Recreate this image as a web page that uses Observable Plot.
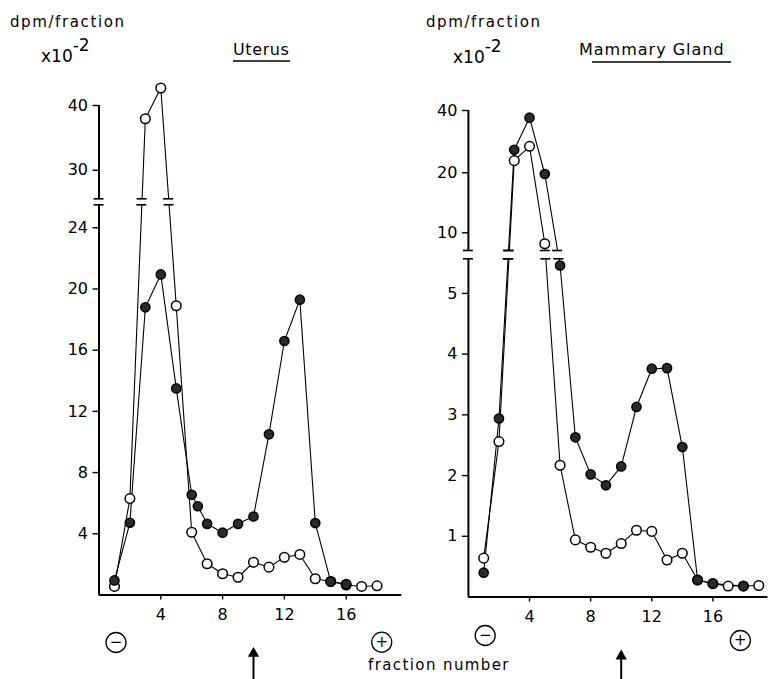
<!DOCTYPE html>
<html><head><meta charset="utf-8">
<script src="https://cdn.jsdelivr.net/npm/d3@7"></script>
<script src="https://cdn.jsdelivr.net/npm/@observablehq/plot@0.6"></script>
<style>
body{margin:0;background:#fff;}
#wrap{position:relative;width:768px;height:679px;overflow:hidden;font-family:"DejaVu Sans",sans-serif;background:#fff;}
#wrap > svg{position:absolute;top:0;}
</style></head><body><div id="wrap"></div>
<script>
// ---- data (dpm/fraction x10^-2 vs fraction number) ----
const uterusOpenX   = [1,2,3,4,5,6,7,8,9,10,11,12,13,14,15,16,17,18];
const uterusOpenY   = [0.56,6.3,37.95,42.7,18.9,4.1,2.04,1.39,1.16,2.14,1.82,2.47,2.65,1.06,0.88,0.65,0.56,0.6];
const uterusFilledX = [1,2,3,4,5,6,6.4,7,8,9,10,11,12,13,14,15,16];
const uterusFilledY = [0.95,4.72,18.8,20.95,13.5,6.55,5.8,4.65,4.07,4.65,5.13,10.5,16.6,19.3,4.7,0.88,0.72];

const mammaryOpenX   = [1,2,3,4,5,6,7,8,9,10,11,12,13,14,15,16,17,18,19];
const mammaryOpenY   = [0.64,2.56,23.9,28.5,8.76,2.17,0.94,0.82,0.72,0.88,1.1,1.08,0.61,0.72,0.28,0.22,0.18,0.18,0.19];
const mammaryFilledX = [1,2,3,4,5,6,7,8,9,10,11,12,13,14,15,16,18];
const mammaryFilledY = [0.40,2.94,27.4,37.7,19.8,5.46,2.63,2.02,1.84,2.15,3.13,3.76,3.77,2.47,0.28,0.22,0.18];

const xTicks = [4,8,12,16];
const uterusTicks  = [4,8,12,16,20,24,30,40];
const mammaryTicks = [1,2,3,4,5,10,20,40];
const arrowAt = 10;          // fraction marked by arrow
const minusAt = 1.1, plusAtU = 18.3, plusAtM = 17.8;

const toPts = (xs, ys) => xs.map((x,i)=>({x, y: ys[i]}));

function crossings(pts, xs, ys, lo, hi){
  const out = [];
  for (let i=0;i<pts.length-1;i++){
    const a=pts[i], b=pts[i+1];
    if (Math.min(a.y,b.y) < lo && Math.max(a.y,b.y) > hi){
      const ax=xs(a.x), ay=ys(a.y), bx=xs(b.x), by=ys(b.y);
      for (const v of [lo,hi]){
        const py=ys(v), t=(py-ay)/(by-ay);
        out.push({x: xs.invert(ax+t*(bx-ax)), y: v});
      }
    }
  }
  return out;
}

function panel(cfg){
  const xs = d3.scaleLinear().domain(cfg.xDomain).range(cfg.xRange);
  // broken (piecewise) value axis, used as the Plot y-scale transform
  const ys = d3.scaleLinear().domain(cfg.yDomain).range(cfg.yRange);
  const yEnds = [cfg.yRange[0], cfg.yRange[cfg.yRange.length-1]];
  const open = toPts(cfg.openX, cfg.openY), filled = toPts(cfg.filledX, cfg.filledY);
  const caps = [{x:0,y:cfg.lo},{x:0,y:cfg.hi},
    ...crossings(open, xs, ys, cfg.lo, cfg.hi), ...crossings(filled, xs, ys, cfg.lo, cfg.hi)];
  const hw = 5/ (xs(1)-xs(0));
  const y0 = cfg.yRange[0];
  return Plot.plot({
    width: cfg.width, height: 679,
    marginLeft: cfg.xRange[0], marginRight: Math.max(0, cfg.width - cfg.xRange[1]),
    marginTop: 0, marginBottom: 679 - y0,
    style: {background: "transparent", overflow: "visible", fontFamily: "DejaVu Sans, sans-serif", color: "black"},
    x: {domain: cfg.xDomain, range: cfg.xRange},
    y: {transform: ys, domain: yEnds, range: yEnds, axis: null},
    marks: [
      Plot.ruleY([0], {x1: 0, x2: cfg.xDomain[1], stroke: "black", strokeWidth: 1.8}),
      Plot.ruleX([0], {y1: 0, y2: 40, stroke: "black", strokeWidth: 2}),
      Plot.ruleY(cfg.ticks, {y: d=>d, x1: -6/(xs(1)-xs(0)), x2: 0, stroke: "black", strokeWidth: 1.4}),
      Plot.text(cfg.ticks, {y: d=>d, text: d=>String(d), frameAnchor: "left", dx: -11, textAnchor: "end", lineAnchor: "middle", fontSize: 16}),
      Plot.axisX(xTicks, {tickSize: 5, tickPadding: 9, fontSize: 16, label: null, strokeWidth: 1.4}),
      Plot.line(open, {x: "x", y: "y", stroke: "black", strokeWidth: 1.1}),
      Plot.line(filled, {x: "x", y: "y", stroke: "black", strokeWidth: 1.1}),
      Plot.rect([0], {x1: -0.6, x2: cfg.xDomain[1], y1: cfg.lo, y2: cfg.hi, fill: "white"}),
      Plot.ruleY(caps, {x1: d=>d.x-hw, x2: d=>d.x+hw, y: "y", stroke: "black", strokeWidth: 1.6}),
      Plot.dot(open, {x: "x", y: "y", r: 4.8, fill: "white", stroke: "black", strokeWidth: 1.5}),
      Plot.dot(filled, {x: "x", y: "y", r: 4.6, fill: "#2a2a2a", stroke: "black", strokeWidth: 1.5}),
      // electrode symbols
      Plot.dot([minusAt], {x: d=>d, frameAnchor: "bottom", dy: cfg.minusDy, r: 10, fill: "white", stroke: "black", strokeWidth: 1.3}),
      Plot.text([minusAt], {x: d=>d, frameAnchor: "bottom", dy: cfg.minusDy, lineAnchor: "middle", text: ()=>"−", fontSize: 15}),
      Plot.dot([cfg.plusAt], {x: d=>d, frameAnchor: "bottom", dy: cfg.plusDy, r: 10, fill: "white", stroke: "black", strokeWidth: 1.3}),
      Plot.text([cfg.plusAt], {x: d=>d, frameAnchor: "bottom", dy: cfg.plusDy, lineAnchor: "middle", text: ()=>"+", fontSize: 15}),
      // arrow
      Plot.ruleX([arrowAt], {x: d=>d, y1: cfg.arrowY[0], y2: cfg.arrowY[1], stroke: "black", strokeWidth: 2}),
      Plot.dot([arrowAt], {x: d=>d, y: cfg.arrowY[0], symbol: "triangle", r: 4.2, fill: "black"})
    ]
  });
}

const left = panel({
  width: 410,
  xDomain: [0, 19.6], xRange: [98.5, 401.3],
  yDomain: [0, 25.5, 25.6, 40, 45], yRange: [594.5, 204.3, 198.3, 105, 72.6],
  lo: 25.5, hi: 25.6,
  openX: uterusOpenX, openY: uterusOpenY, filledX: uterusFilledX, filledY: uterusFilledY,
  ticks: uterusTicks,
  minusDy: 47.5, plusDy: 47.2, plusAt: plusAtU,
  arrowY: [-3.82, -5.8]
});
left.style.left = "0px";

const right = panel({
  width: 384,
  xDomain: [0, 19.6], xRange: [83.9, 383.4],
  yDomain: [0, 5.57, 8, 10, 20, 40, 48], yRange: [596.5, 258.3, 250, 232.3, 172.3, 110, 85],
  lo: 5.57, hi: 8,
  openX: mammaryOpenX, openY: mammaryOpenY, filledX: mammaryFilledX, filledY: mammaryFilledY,
  ticks: mammaryTicks,
  minusDy: 38.5, plusDy: 43.5, plusAt: plusAtM,
  arrowY: [-0.974, -1.45]
});
right.style.left = "384px";

const wrap = document.getElementById("wrap");
wrap.appendChild(left);
wrap.appendChild(right);

// titles / labels overlay
const ns = "http://www.w3.org/2000/svg";
const ov = document.createElementNS(ns, "svg");
ov.setAttribute("width", 768); ov.setAttribute("height", 679);
ov.style.left = "0px"; ov.style.pointerEvents = "none";
ov.innerHTML = `
<g font-family="DejaVu Sans, sans-serif" fill="black">
  <text x="10" y="27" font-size="15" letter-spacing="1.6">dpm/fraction</text>
  <text x="41" y="62" font-size="17">x10<tspan dy="-11" font-size="17">-2</tspan></text>
  <text x="233" y="55" font-size="16" letter-spacing="0.6">Uterus</text>
  <line x1="233" x2="290" y1="61" y2="61" stroke="black" stroke-width="1.5"/>
  <text x="426" y="27" font-size="15" letter-spacing="1.6">dpm/fraction</text>
  <text x="453" y="63" font-size="17">x10<tspan dy="-11" font-size="17">-2</tspan></text>
  <text x="579" y="55" font-size="16" letter-spacing="1">Mammary Gland</text>
  <line x1="592" x2="731" y1="62" y2="62" stroke="black" stroke-width="1.5"/>
  <text x="368" y="670" font-size="15" letter-spacing="1.4">fraction number</text>
</g>`;
wrap.appendChild(ov);
</script></body></html>
